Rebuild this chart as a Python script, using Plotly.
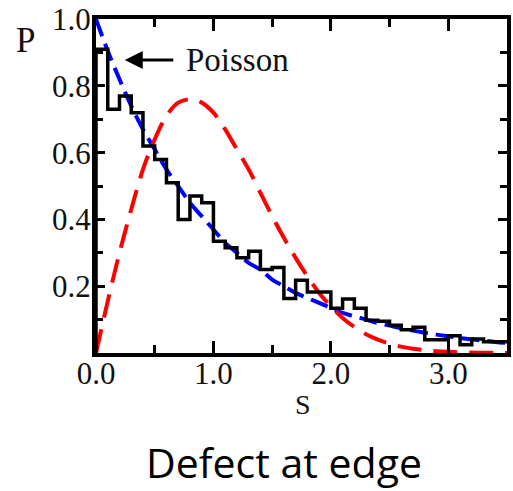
import plotly.graph_objects as go

# Histogram (bin edges and heights)
bin_edges = [0.0, 0.1, 0.2, 0.3, 0.4, 0.5, 0.6, 0.7, 0.8, 0.9, 1.0, 1.1, 1.2, 1.3, 1.4, 1.5,
             1.6, 1.7, 1.8, 1.9, 2.0, 2.1, 2.2, 2.3, 2.4, 2.5, 2.6, 2.7, 2.8, 2.9, 3.0,
             3.1, 3.2, 3.3, 3.4, 3.5]
hist_values = [0.91, 0.73, 0.77, 0.72, 0.62, 0.58, 0.51, 0.40, 0.47, 0.45, 0.335, 0.315,
               0.285, 0.305, 0.25, 0.256, 0.163, 0.218, 0.183, 0.183, 0.134, 0.162, 0.134,
               0.098, 0.095, 0.083, 0.07, 0.077, 0.04, 0.04, 0.052, 0.025, 0.042, 0.034, 0.034]

# Curves
curve_s = [0.0, 0.1, 0.2, 0.3, 0.4, 0.5, 0.6, 0.7, 0.8, 0.9, 1.0, 1.1, 1.2, 1.3, 1.4, 1.5,
           1.6, 1.7, 1.8, 1.9, 2.0, 2.1, 2.2, 2.3, 2.4, 2.5, 2.6, 2.7, 2.8, 2.9, 3.0,
           3.1, 3.2, 3.3, 3.4, 3.5]
poisson_p = [1.0, 0.905, 0.82, 0.74, 0.67, 0.61, 0.55, 0.50, 0.45, 0.41, 0.37, 0.33, 0.30,
             0.27, 0.25, 0.22, 0.20, 0.18, 0.165, 0.15, 0.135, 0.12, 0.11, 0.10, 0.09, 0.082,
             0.074, 0.067, 0.061, 0.055, 0.05, 0.045, 0.041, 0.037, 0.033, 0.03]
wigner_p = [0.0, 0.155, 0.30, 0.43, 0.55, 0.64, 0.71, 0.75, 0.76, 0.75, 0.72, 0.67, 0.61,
            0.55, 0.48, 0.41, 0.345, 0.285, 0.23, 0.18, 0.14, 0.105, 0.078, 0.056, 0.04,
            0.028, 0.019, 0.013, 0.0085, 0.0055, 0.0035, 0.0022, 0.0013, 0.0008, 0.0005, 0.0003]

x_ticks = [0.0, 1.0, 2.0, 3.0]
x_ticktext = ["0.0", "1.0", "2.0", "3.0"]
y_ticks = [0.2, 0.4, 0.6, 0.8, 1.0]
y_ticktext = ["0.2", "0.4", "0.6", "0.8", "1.0"]

SERIF = "Liberation Serif, Times New Roman, serif"

hx = [bin_edges[0]] + bin_edges
hy = [0.0] + hist_values + [hist_values[-1]]

fig = go.Figure()
fig.add_trace(go.Scatter(x=curve_s, y=poisson_p, mode="lines", line_shape="spline",
                         line=dict(color="#0000ff", width=4, dash="18px,8px"),
                         hoverinfo="skip"))
fig.add_trace(go.Scatter(x=curve_s, y=wigner_p, mode="lines", line_shape="spline",
                         line=dict(color="#ff0000", width=4, dash="24px,12px"),
                         hoverinfo="skip"))
fig.add_trace(go.Scatter(x=hx, y=hy, mode="lines", line_shape="hv",
                         line=dict(color="black", width=3.5), hoverinfo="skip"))

axis_common = dict(showgrid=False, zeroline=False, showline=True, linecolor="black",
                   linewidth=4, mirror="ticks", ticks="inside", tickcolor="black",
                   tickwidth=3, ticklabeloverflow="allow",
                   tickfont=dict(family=SERIF, size=31, color="#111"))

fig.update_xaxes(range=[0, 3.5], tickvals=x_ticks, ticktext=x_ticktext, ticklen=12,
                 ticklabelstandoff=-10,
                 minor=dict(dtick=0.5, tick0=0, ticks="inside", ticklen=8,
                            tickwidth=3, tickcolor="black"),
                 **axis_common)
fig.update_yaxes(range=[0, 1.0005], tickvals=y_ticks, ticktext=y_ticktext, ticklen=9,
                 ticklabelstandoff=-5,
                 minor=dict(dtick=0.1, tick0=0, ticks="inside", ticklen=7,
                            tickwidth=3, tickcolor="black"),
                 **axis_common)

annotations = [
    dict(x=0.245, y=0.878, xref="x", yref="y", text="", showarrow=True,
         ax=50, ay=0, axref="pixel", ayref="pixel", arrowhead=2, arrowsize=1.2,
         arrowwidth=3, arrowcolor="black", standoff=0, startstandoff=0),
    dict(x=0.75, y=0.878, xref="x", yref="y", text="Poisson", showarrow=False,
         xanchor="left", yanchor="middle", font=dict(family=SERIF, size=33, color="#111")),
    dict(x=-0.171, y=0.935, xref="paper", yref="paper", text="P", showarrow=False,
         xanchor="center", yanchor="middle", font=dict(family=SERIF, size=35, color="#111")),
    dict(x=0.504, y=-0.155, xref="paper", yref="paper", text="S", showarrow=False,
         xanchor="center", yanchor="middle", font=dict(family=SERIF, size=28, color="#111")),
    dict(x=0.458, y=-0.326, xref="paper", yref="paper", text="Defect at edge",
         showarrow=False, xanchor="center", yanchor="middle",
         font=dict(family="Open Sans", size=41, color="black")),
]

fig.update_layout(width=513, height=491, margin=dict(l=96, r=2, t=16, b=138),
                  paper_bgcolor="white", plot_bgcolor="white", showlegend=False,
                  font=dict(family=SERIF), annotations=annotations)

fig.write_html("out.html")
